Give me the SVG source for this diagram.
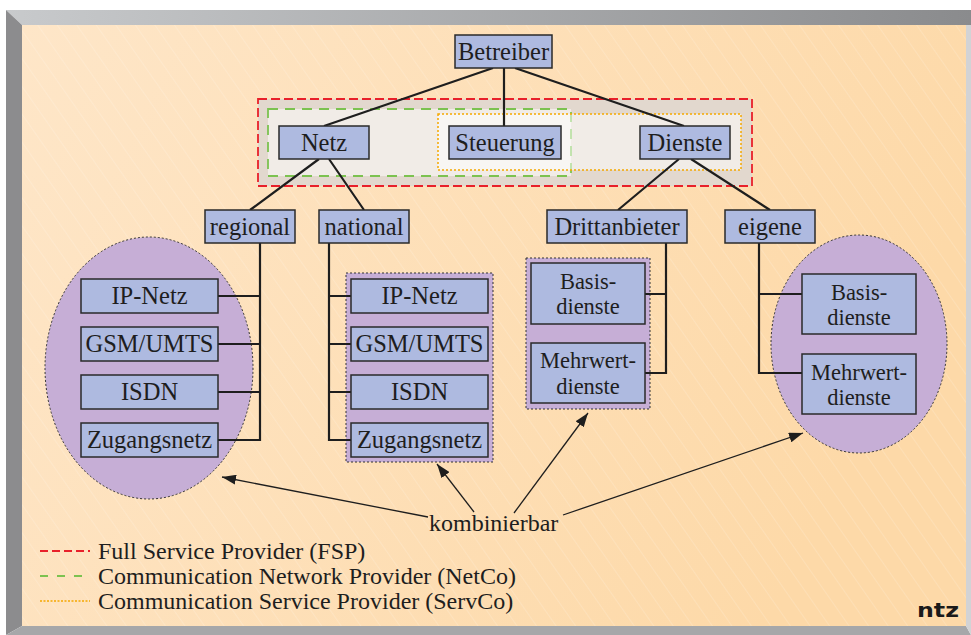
<svg xmlns="http://www.w3.org/2000/svg" width="971" height="635" viewBox="0 0 971 635">
<style>
.nd{fill:#aebae0;stroke:#2a2a2a;stroke-width:1.5}
.t{font-family:"Liberation Serif","Times New Roman",serif;font-size:24.5px;fill:#1e1e1e;text-anchor:middle}
.t2{font-family:"Liberation Serif","Times New Roman",serif;font-size:22.5px;fill:#1e1e1e;text-anchor:middle}
.lg{font-family:"Liberation Serif","Times New Roman",serif;font-size:24px;fill:#1e1e1e}
.tree{fill:none;stroke:#1e1e1e;stroke-width:2.2}
.arr{fill:none;stroke:#1e1e1e;stroke-width:1.3;marker-end:url(#ah)}
.grp{fill:#c6aed6;stroke:#333;stroke-width:1;stroke-dasharray:2 2}
</style>
<defs>
<linearGradient id="bg" x1="0" y1="0" x2="1" y2="0.3">
<stop offset="0" stop-color="#fee6c8"/>
<stop offset="1" stop-color="#fdd9a8"/>
</linearGradient>
<linearGradient id="topb" x1="0" y1="0" x2="1" y2="0">
<stop offset="0" stop-color="#c8cacc"/>
<stop offset="1" stop-color="#8a8b8d"/>
</linearGradient>
<pattern id="hatch" width="16" height="16" patternUnits="userSpaceOnUse" patternTransform="rotate(-35)">
<line x1="0" y1="0" x2="0" y2="16" stroke="#ffffff" stroke-width="0.7" stroke-opacity="0.45"/>
</pattern>
<marker id="ah" viewBox="0 0 14 10" refX="14" refY="5" markerWidth="14" markerHeight="10" markerUnits="userSpaceOnUse" orient="auto">
<path d="M0 0 L14 5 L0 10 Z" fill="#1e1e1e"/>
</marker>
</defs>

<g id="frame">
<rect x="0" y="0" width="971" height="635" fill="#ffffff"/>
<polygon points="6,10 971,10 971,25 22,25" fill="url(#topb)"/>
<polygon points="6,10 22,25 22,626 6,635" fill="#8c8c8e"/>
<polygon points="6,635 22,626 966,626 971,635" fill="#a6a7a9"/>
<polygon points="966,25 971,25 971,635 966,626" fill="#d2d3d5"/>
<rect x="22" y="25" width="944" height="601" fill="url(#bg)"/>
<rect x="22" y="25" width="944" height="601" fill="url(#hatch)"/>
</g>

<g id="providers">
<rect id="fsp" x="258" y="99" width="494" height="87" fill="#e2d8ce" stroke="#e8202a" stroke-width="1.8" stroke-dasharray="9 4"/>
<rect id="netco" x="268" y="109" width="303" height="67" fill="#ffffff" fill-opacity="0.5" stroke="#7cc250" stroke-width="1.8" stroke-dasharray="10 7"/>
<rect id="servco" x="438" y="114" width="303" height="56" fill="#ffffff" fill-opacity="0.5" stroke="#f5a800" stroke-width="1.5" stroke-dasharray="2 2"/>
</g>

<g id="groups">
<ellipse id="g-regional" cx="149" cy="368" rx="104" ry="131" class="grp"/>
<rect id="g-national" x="346" y="273" width="147" height="189" class="grp"/>
<rect id="g-dritt" x="526" y="258" width="124" height="151" class="grp"/>
<ellipse id="g-eigene" cx="859" cy="344" rx="88" ry="109" class="grp"/>
</g>

<g id="connectors">
<path class="tree" d="M493 68 L324 126 M504 68 V126 M515 68 L684 126"/>
<path class="tree" d="M319 159 L250 210 M329 159 L364 210 M679 159 L618 210 M691 159 L770 210"/>
<path class="tree" d="M260 243 V440 H218 M218 296 H260 M218 344 H260 M218 392 H260"/>
<path class="tree" d="M329 243 V440 H351 M329 296 H351 M329 344 H351 M329 392 H351"/>
<path class="tree" d="M666 243 V373 H645 M645 294 H666"/>
<path class="tree" d="M759 243 V373 H802 M759 294 H802"/>
<line class="arr" x1="428" y1="517" x2="222" y2="477"/>
<line class="arr" x1="474" y1="512" x2="437" y2="464"/>
<line class="arr" x1="514" y1="513" x2="588" y2="413"/>
<line class="arr" x1="563" y1="515" x2="803" y2="433"/>
</g>

<g id="n-betreiber"><rect class="nd" x="455" y="35" width="97" height="33"/><text class="t" x="503.5" y="60">Betreiber</text></g>
<g id="n-netz"><rect class="nd" x="279" y="126" width="90" height="33"/><text class="t" x="324" y="151">Netz</text></g>
<g id="n-steuerung"><rect class="nd" x="449" y="126" width="112" height="33"/><text class="t" x="505" y="151">Steuerung</text></g>
<g id="n-dienste"><rect class="nd" x="640" y="126" width="90" height="33"/><text class="t" x="685" y="151">Dienste</text></g>
<g id="n-regional"><rect class="nd" x="205" y="210" width="90" height="33"/><text class="t" x="250" y="235">regional</text></g>
<g id="n-national"><rect class="nd" x="319" y="210" width="90" height="33"/><text class="t" x="364" y="235">national</text></g>
<g id="n-dritt"><rect class="nd" x="547" y="210" width="140" height="33"/><text class="t" x="617" y="235">Drittanbieter</text></g>
<g id="n-eigene"><rect class="nd" x="725" y="210" width="90" height="33"/><text class="t" x="770" y="235">eigene</text></g>

<g id="n-r-ip"><rect class="nd" x="81" y="279" width="137" height="34"/><text class="t" x="149.5" y="304">IP-Netz</text></g>
<g id="n-r-gsm"><rect class="nd" x="81" y="327" width="137" height="34"/><text class="t" x="149.5" y="352">GSM/UMTS</text></g>
<g id="n-r-isdn"><rect class="nd" x="81" y="375" width="137" height="34"/><text class="t" x="149.5" y="400">ISDN</text></g>
<g id="n-r-zug"><rect class="nd" x="81" y="423" width="137" height="34"/><text class="t" x="149.5" y="448">Zugangsnetz</text></g>

<g id="n-n-ip"><rect class="nd" x="351" y="279" width="137" height="34"/><text class="t" x="419.5" y="304">IP-Netz</text></g>
<g id="n-n-gsm"><rect class="nd" x="351" y="327" width="137" height="34"/><text class="t" x="419.5" y="352">GSM/UMTS</text></g>
<g id="n-n-isdn"><rect class="nd" x="351" y="375" width="137" height="34"/><text class="t" x="419.5" y="400">ISDN</text></g>
<g id="n-n-zug"><rect class="nd" x="351" y="423" width="137" height="34"/><text class="t" x="419.5" y="448">Zugangsnetz</text></g>

<g id="n-d-basis"><rect class="nd" x="531" y="263" width="114" height="61"/><text class="t2" x="588" y="288.5">Basis-<tspan x="588" dy="25.5">dienste</tspan></text></g>
<g id="n-d-mehr"><rect class="nd" x="531" y="343" width="114" height="60"/><text class="t2" x="588" y="368">Mehrwert-<tspan x="588" dy="25.5">dienste</tspan></text></g>
<g id="n-e-basis"><rect class="nd" x="802" y="274" width="114" height="60"/><text class="t2" x="859" y="299.5">Basis-<tspan x="859" dy="25.5">dienste</tspan></text></g>
<g id="n-e-mehr"><rect class="nd" x="802" y="354" width="114" height="60"/><text class="t2" x="859" y="379.5">Mehrwert-<tspan x="859" dy="25.5">dienste</tspan></text></g>

<g id="n-kombinierbar"><text class="lg" x="429" y="531">kombinierbar</text></g>

<g id="legend">
<line x1="40" y1="551" x2="90" y2="551" stroke="#e8202a" stroke-width="1.8" stroke-dasharray="8 4"/>
<text class="lg" x="98" y="559">Full Service Provider (FSP)</text>
<line x1="40" y1="576" x2="90" y2="576" stroke="#7cc250" stroke-width="1.8" stroke-dasharray="8 9"/>
<text class="lg" x="98" y="584">Communication Network Provider (NetCo)</text>
<line x1="40" y1="601" x2="90" y2="601" stroke="#f5a800" stroke-width="1.5" stroke-dasharray="2 1.5"/>
<text class="lg" x="98" y="609">Communication Service Provider (ServCo)</text>
</g>

<text x="917" y="617" font-family="'DejaVu Sans',sans-serif" font-weight="bold" font-size="20" fill="#1a1a1a" textLength="42" lengthAdjust="spacingAndGlyphs">ntz</text>
</svg>
